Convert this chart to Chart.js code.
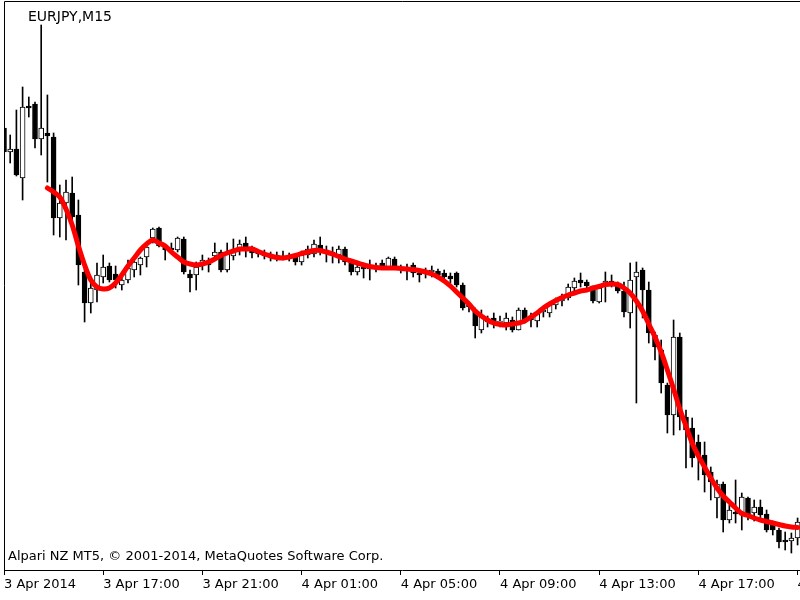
<!DOCTYPE html>
<html>
<head>
<meta charset="utf-8">
<title>EURJPY,M15</title>
<script src="https://cdn.jsdelivr.net/npm/chart.js@4.4.1/dist/chart.umd.min.js"></script>
<style>
  html, body { margin: 0; padding: 0; background: #fff; }
</style>
</head>
<body>
<canvas id="chart" width="800" height="600"></canvas>
<script>
const symbolTitle = 'EURJPY,M15';
const brokerNote = 'Alpari NZ MT5, \u00a9 2001-2014, MetaQuotes Software Corp.';

// time axis: one label every 16 bars (4 hours of M15)
const tickBars = [0, 16, 32, 48, 64, 80, 96, 112, 128];
const tickLabels = ['3 Apr 2014', '3 Apr 17:00', '3 Apr 21:00', '4 Apr 01:00', '4 Apr 05:00',
  '4 Apr 09:00', '4 Apr 13:00', '4 Apr 17:00', '4 Apr 21:00'];

// OHLC, bar 0 = 3 Apr 13:00
const opens = [
  142.344, 142.296, 142.302, 142.244, 142.388, 142.392, 142.322, 142.334, 142.326, 142.164,
  142.194, 142.214, 142.170, 142.056, 141.994, 142.020, 142.046, 142.068, 142.052, 142.030,
  142.040, 142.060, 142.070, 142.086, 142.124, 142.144, 142.108, 142.104, 142.100, 142.122,
  142.052, 142.050, 142.070, 142.076, 142.088, 142.096, 142.060, 142.088, 142.100, 142.114,
  142.100, 142.094, 142.092, 142.088, 142.090, 142.086, 142.088, 142.086, 142.076, 142.090,
  142.092, 142.110, 142.100, 142.096, 142.090, 142.102, 142.076, 142.056, 142.066, 142.062,
  142.068, 142.074, 142.066, 142.082, 142.066, 142.064, 142.070, 142.054, 142.054, 142.056,
  142.058, 142.054, 142.048, 142.054, 142.030, 141.990, 141.980, 141.940, 141.960, 141.964,
  141.956, 141.954, 141.960, 141.940, 141.980, 141.964, 141.958, 141.976, 141.974, 141.990,
  141.998, 142.004, 142.024, 142.040, 142.036, 142.028, 141.996, 142.032, 142.038, 142.030,
  142.018, 141.974, 142.046, 142.060, 142.020, 141.930, 141.900, 141.830, 141.770, 141.926,
  141.766, 141.744, 141.716, 141.690, 141.656, 141.604, 141.632, 141.560, 141.576, 141.570,
  141.604, 141.574, 141.586, 141.572, 141.554, 141.540, 141.520, 141.518, 141.524
];
const highs = [
  142.350, 142.330, 142.380, 142.426, 142.406, 142.396, 142.550, 142.410, 142.334, 142.230,
  142.240, 142.246, 142.200, 142.064, 142.046, 142.074, 142.090, 142.074, 142.068, 142.046,
  142.080, 142.086, 142.086, 142.110, 142.144, 142.146, 142.110, 142.114, 142.126, 142.126,
  142.060, 142.076, 142.090, 142.084, 142.114, 142.100, 142.114, 142.122, 142.120, 142.126,
  142.108, 142.100, 142.100, 142.096, 142.096, 142.098, 142.094, 142.090, 142.098, 142.108,
  142.120, 142.126, 142.108, 142.106, 142.108, 142.106, 142.080, 142.074, 142.074, 142.080,
  142.074, 142.080, 142.086, 142.086, 142.070, 142.072, 142.074, 142.060, 142.064, 142.068,
  142.062, 142.060, 142.054, 142.056, 142.034, 141.996, 141.984, 141.980, 141.968, 141.974,
  141.968, 141.974, 141.966, 141.984, 141.984, 141.974, 141.976, 141.988, 141.996, 142.004,
  142.012, 142.032, 142.044, 142.054, 142.040, 142.028, 142.028, 142.056, 142.050, 142.036,
  142.036, 142.074, 142.076, 142.064, 142.036, 141.936, 141.920, 141.834, 141.960, 141.934,
  141.780, 141.764, 141.730, 141.716, 141.666, 141.640, 141.636, 141.590, 141.640, 141.614,
  141.606, 141.600, 141.600, 141.580, 141.558, 141.544, 141.536, 141.534, 141.564
];
const lows = [
  142.290, 142.274, 142.248, 142.200, 142.366, 142.304, 142.290, 142.236, 142.130, 142.126,
  142.120, 142.154, 142.030, 141.956, 141.974, 141.996, 142.034, 142.036, 142.024, 142.020,
  142.034, 142.046, 142.050, 142.066, 142.114, 142.106, 142.080, 142.094, 142.096, 142.052,
  142.016, 142.020, 142.060, 142.056, 142.080, 142.056, 142.056, 142.080, 142.090, 142.086,
  142.084, 142.086, 142.082, 142.078, 142.078, 142.080, 142.078, 142.070, 142.070, 142.084,
  142.086, 142.090, 142.076, 142.074, 142.074, 142.070, 142.050, 142.050, 142.044, 142.040,
  142.056, 142.064, 142.062, 142.064, 142.054, 142.040, 142.046, 142.036, 142.044, 142.046,
  142.046, 142.036, 142.034, 142.026, 141.980, 141.976, 141.924, 141.934, 141.946, 141.944,
  141.946, 141.940, 141.936, 141.940, 141.954, 141.946, 141.946, 141.966, 141.966, 141.982,
  141.988, 142.000, 142.014, 142.026, 142.020, 141.994, 141.994, 141.996, 142.026, 142.014,
  141.966, 141.944, 141.794, 141.964, 141.914, 141.880, 141.814, 141.734, 141.730, 141.740,
  141.664, 141.666, 141.640, 141.616, 141.600, 141.564, 141.536, 141.554, 141.554, 141.540,
  141.560, 141.558, 141.560, 141.536, 141.530, 141.504, 141.500, 141.494, 141.510
];
const closes = [
  142.296, 142.302, 142.250, 142.386, 142.384, 142.322, 142.344, 142.328, 142.164, 142.194,
  142.216, 142.166, 142.070, 141.994, 142.024, 142.050, 142.066, 142.040, 142.040, 142.040,
  142.064, 142.076, 142.084, 142.106, 142.142, 142.108, 142.100, 142.100, 142.124, 142.056,
  142.044, 142.066, 142.080, 142.070, 142.096, 142.060, 142.096, 142.100, 142.112, 142.102,
  142.094, 142.092, 142.088, 142.090, 142.086, 142.088, 142.084, 142.076, 142.090, 142.102,
  142.112, 142.100, 142.096, 142.090, 142.102, 142.076, 142.056, 142.066, 142.062, 142.068,
  142.064, 142.068, 142.084, 142.066, 142.062, 142.060, 142.054, 142.050, 142.056, 142.060,
  142.050, 142.046, 142.042, 142.030, 141.984, 141.986, 141.948, 141.966, 141.956, 141.954,
  141.958, 141.964, 141.940, 141.980, 141.960, 141.960, 141.974, 141.980, 141.990, 141.998,
  142.002, 142.026, 142.038, 142.034, 142.028, 141.998, 142.024, 142.038, 142.034, 142.018,
  141.976, 142.040, 142.056, 142.020, 141.934, 141.906, 141.834, 141.770, 141.926, 141.766,
  141.740, 141.684, 141.688, 141.650, 141.636, 141.632, 141.560, 141.580, 141.572, 141.606,
  141.566, 141.586, 141.570, 141.540, 141.540, 141.516, 141.516, 141.524, 141.556
];
// smoothing indicator (red line), starts at bar 7
const smooth = [
  null, null, null, null, null, null, null, 142.224, 142.216, 142.206,
  142.182, 142.150, 142.108, 142.070, 142.040, 142.026, 142.022, 142.024, 142.034, 142.050,
  142.068, 142.084, 142.100, 142.112, 142.120, 142.114, 142.108, 142.096, 142.086, 142.076,
  142.072, 142.070, 142.072, 142.076, 142.082, 142.089, 142.094, 142.098, 142.102, 142.102,
  142.102, 142.097, 142.092, 142.088, 142.085, 142.084, 142.086, 142.089, 142.093, 142.096,
  142.099, 142.099, 142.096, 142.092, 142.087, 142.082, 142.078, 142.074, 142.070, 142.067,
  142.065, 142.064, 142.064, 142.064, 142.063, 142.062, 142.061, 142.059, 142.056, 142.052,
  142.046, 142.038, 142.028, 142.016, 142.004, 141.992, 141.978, 141.968, 141.960, 141.954,
  141.951, 141.950, 141.952, 141.954, 141.958, 141.966, 141.974, 141.984, 141.992, 141.999,
  142.005, 142.010, 142.014, 142.018, 142.020, 142.024, 142.027, 142.031, 142.032, 142.031,
  142.024, 142.014, 141.998, 141.978, 141.952, 141.926, 141.896, 141.860, 141.822, 141.782,
  141.748, 141.714, 141.688, 141.666, 141.644, 141.624, 141.608, 141.596, 141.584, 141.573,
  141.569, 141.564, 141.560, 141.557, 141.554, 141.551, 141.548, 141.546, 141.545
];

const FONT = 'DejaVu Sans';

// frame + title + copyright, drawn like the terminal does
const terminalFrame = {
  id: 'terminalFrame',
  afterDraw(chart) {
    const { ctx, chartArea } = chart;
    ctx.save();
    ctx.strokeStyle = '#000';
    ctx.lineWidth = 1;
    ctx.beginPath();
    ctx.moveTo(chartArea.left + 0.5, chartArea.bottom);
    ctx.lineTo(chartArea.left + 0.5, 1.5);
    ctx.lineTo(chartArea.right, 1.5);
    ctx.stroke();
    ctx.fillStyle = '#000';
    ctx.textBaseline = 'alphabetic';
    ctx.font = '14px "' + FONT + '"';
    ctx.fillText(symbolTitle, 28, 21);
    ctx.font = '13px "' + FONT + '"';
    ctx.fillText(brokerNote, 8, 560);
    ctx.restore();
  }
};

const idx = opens.map((_, i) => i);
const bodyData = idx.map(i => ({ x: i, y: [opens[i], closes[i]] }));
const wickData = idx.map(i => ({ x: i, y: [lows[i], highs[i]] }));
const bodyFill = idx.map(i => closes[i] > opens[i] ? '#ffffff' : '#000000');
const lineData = idx.filter(i => smooth[i] !== null).map(i => ({ x: i, y: smooth[i] }));

new Chart(document.getElementById('chart'), {
  type: 'bar',
  data: {
    datasets: [
      {
        type: 'line',
        data: lineData,
        borderColor: '#ff0000',
        borderWidth: 5,
        pointRadius: 0,
        tension: 0.3,
        fill: false,
        borderCapStyle: 'round'
      },
      {
        data: bodyData,
        backgroundColor: bodyFill,
        borderColor: '#000000',
        borderWidth: 1,
        borderSkipped: false,
        barThickness: 5,
        grouped: false
      },
      {
        data: wickData,
        backgroundColor: '#000000',
        borderWidth: 0,
        barThickness: 1,
        grouped: false
      }
    ]
  },
  options: {
    responsive: false,
    animation: false,
    devicePixelRatio: 1,
    layout: { padding: { left: 4, right: 0, top: 0, bottom: 0 } },
    plugins: {
      legend: { display: false },
      tooltip: { enabled: false }
    },
    scales: {
      x: {
        type: 'linear',
        min: 0,
        max: 128.39,
        offset: false,
        grid: { display: true, drawOnChartArea: false, drawTicks: true, tickLength: 5, color: '#000', offset: false },
        border: { display: true, color: '#000', width: 1 },
        ticks: {
          align: 'start',
          padding: 2,
          color: '#000',
          maxRotation: 0,
          autoSkip: false,
          font: { family: FONT, size: 13 },
          callback: (v) => tickLabels[tickBars.indexOf(v)]
        },
        afterBuildTicks: axis => { axis.ticks = tickBars.map(v => ({ value: v })); },
        afterFit: axis => { axis.height = 30; axis.paddingLeft = 0; axis.paddingRight = 0; }
      },
      y: {
        display: false,
        min: 141.46,
        max: 142.6
      }
    }
  },
  plugins: [terminalFrame]
});
</script>
</body>
</html>
